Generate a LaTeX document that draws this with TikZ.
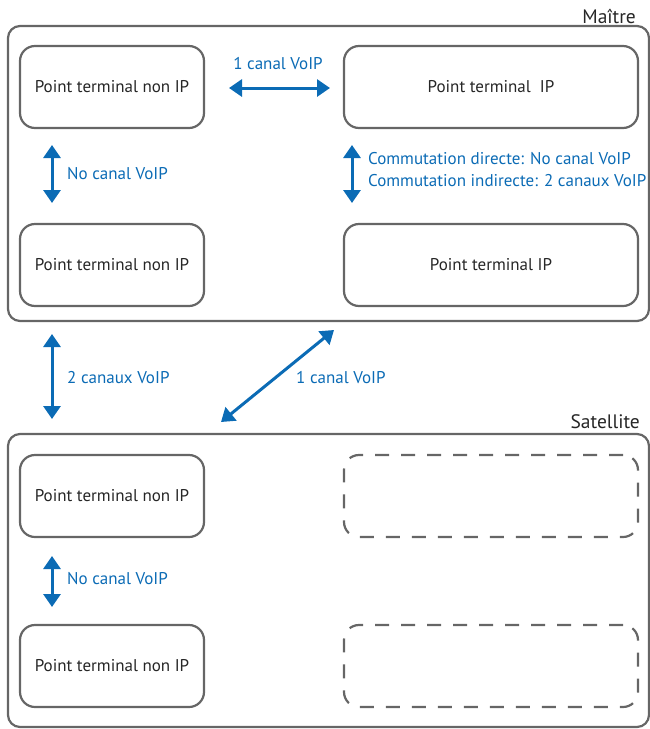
\documentclass[tikz,border=0pt]{standalone}
\usepackage{fontspec}
\setmainfont{PT Sans}
\usetikzlibrary{arrows.meta}
\definecolor{lblue}{HTML}{0B6BB5}
\definecolor{lgray}{HTML}{666666}
\tikzset{
  outerbox/.style={draw=lgray,line width=2.2pt,rounded corners=12pt},
  termbox/.style={draw=lgray,line width=2.2pt,rounded corners=15pt,minimum width=184pt,minimum height=82pt,inner sep=0pt,font=\fontsize{17}{19}\selectfont,text=black!85},
  iptermbox/.style={termbox,minimum width=294pt},
  dashbox/.style={draw=lgray,line width=2.2pt,rounded corners=15pt,minimum width=294pt,minimum height=82pt,dash pattern=on 14pt off 12pt},
  link/.style={draw=lblue,line width=3pt,{Triangle[width=17pt,length=13pt]}-{Triangle[width=17pt,length=13pt]}},
  lbl/.style={text=lblue,font=\fontsize{17}{19}\selectfont,inner sep=0pt},
  title/.style={font=\fontsize{19.5}{21}\selectfont,text=black!85,inner sep=0pt}
}
\begin{document}
\begin{tikzpicture}[x=1pt,y=-1pt]
\useasboundingbox (0,0) rectangle (650,729);
% outer groups
\draw[outerbox] (8,26) rectangle (649,321);
\draw[outerbox] (8,434) rectangle (649,727);
\node[title,anchor=east] (maitre) at (636,16) {Maître};
\node[title,anchor=east] (satellite) at (640,422) {Satellite};
% Maitre terminals
\node[termbox] (a) at (112,87) {Point terminal non IP};
\node[iptermbox] (b) at (491,87) {Point terminal\ \ IP};
\node[termbox] (c) at (112,265) {Point terminal non IP};
\node[iptermbox] (d) at (491,265) {Point terminal IP};
% Satellite terminals
\node[termbox] (e) at (112,496) {Point terminal non IP};
\node[dashbox] (f) at (491,496) {};
\node[termbox] (g) at (112,666) {Point terminal non IP};
\node[dashbox] (h) at (491,666) {};
% connection anchors
\coordinate (ab1) at (229,88);
\coordinate (ab2) at (330,88);
\coordinate (ac1) at (52,145);
\coordinate (ac2) at (52,203);
\coordinate (bd1) at (352,145);
\coordinate (bd2) at (352,203);
\coordinate (ce1) at (52,334);
\coordinate (ce2) at (52,419);
\coordinate (de1) at (334,330);
\coordinate (de2) at (221,422);
\coordinate (eg1) at (52,556);
\coordinate (eg2) at (52,607);
\draw[link] (ab1) -- (ab2);
\draw[link] (ac1) -- (ac2);
\draw[link] (bd1) -- (bd2);
\draw[link] (ce1) -- (ce2);
\draw[link] (de1) -- (de2);
\draw[link] (eg1) -- (eg2);
% labels
\node[lbl] (l1) at (278,64) {1 canal VoIP};
\node[lbl,anchor=west] (l2) at (67,174) {No canal VoIP};
\node[lbl,anchor=west] (l3) at (368,159) {Commutation directe: No canal VoIP};
\node[lbl,anchor=west] (l4) at (368,181) {Commutation indirecte: 2 canaux VoIP};
\node[lbl,anchor=west] (l5) at (67,378) {2 canaux VoIP};
\node[lbl,anchor=west] (l6) at (296,378) {1 canal VoIP};
\node[lbl,anchor=west] (l7) at (67,579) {No canal VoIP};
\end{tikzpicture}
\end{document}
